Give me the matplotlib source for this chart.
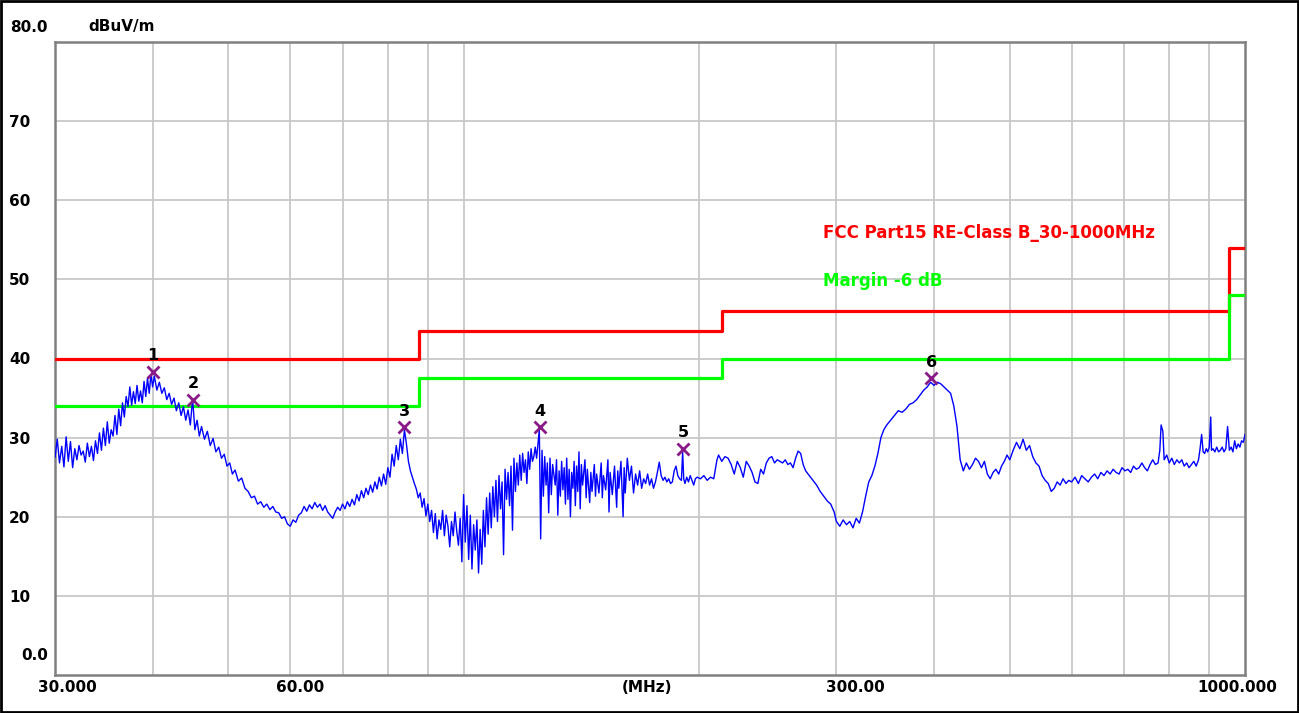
import matplotlib
matplotlib.use("Agg")
import matplotlib.pyplot as plt
from matplotlib.patches import Rectangle
import numpy as np

# ---- measured trace, 30 - 100 MHz ----
freq_low = [30.0, 30.2, 30.4, 30.6, 30.8, 31.0, 31.2, 31.4, 31.6, 31.8,
            32.0, 32.2, 32.4, 32.6, 32.8, 33.0, 33.2, 33.4, 33.6, 33.8,
            34.0, 34.2, 34.4, 34.6, 34.8, 35.0, 35.2, 35.4, 35.6, 35.8,
            36.0, 36.2, 36.4, 36.6, 36.8, 37.0, 37.2, 37.4, 37.6, 37.8,
            38.0, 38.2, 38.4, 38.6, 38.8, 39.0, 39.2, 39.4, 39.6, 39.8,
            40.0, 40.2, 40.5, 40.8, 41.1, 41.4, 41.7, 42.0, 42.3, 42.6,
            42.9, 43.2, 43.5, 43.8, 44.1, 44.4, 44.7, 45.0, 45.3, 45.6,
            45.9, 46.2, 46.6, 47.0, 47.4, 47.8, 48.2, 48.6, 49.0, 49.4,
            49.8, 50.2, 50.6, 51.0, 51.5, 52.0, 52.5, 53.0, 53.5, 54.0,
            54.5, 55.0, 55.5, 56.0, 56.5, 57.0, 57.5, 58.0, 58.5, 59.0,
            59.5, 60.0, 60.5, 61.0, 61.5, 62.0, 62.5, 63.0, 63.5, 64.0,
            64.5, 65.0, 65.5, 66.0, 66.5, 67.0, 67.5, 68.0, 68.5, 69.0,
            69.5, 70.0, 70.5, 71.0, 71.5, 72.0, 72.5, 73.0, 73.5, 74.0,
            74.5, 75.0, 75.5, 76.0, 76.5, 77.0, 77.5, 78.0, 78.5, 79.0,
            79.5, 80.0, 80.5, 81.0, 81.5, 82.0, 82.5, 83.0, 83.5, 84.0,
            84.5, 85.0, 85.5, 86.0, 86.5, 87.0, 87.5, 88.0, 88.5, 89.0,
            89.5, 90.0, 90.5, 91.0, 91.5, 92.0, 92.5, 93.0, 93.5, 94.0,
            94.5, 95.0, 95.5, 96.0, 96.5, 97.0, 97.5, 98.0, 98.5, 99.0,
            99.5]
level_low = [27.5, 29.8, 26.8, 28.9, 26.3, 30.1, 27.0, 29.5, 26.2, 28.6,
             27.2, 29.0, 27.8, 28.3, 26.9, 29.3, 27.6, 28.9, 27.1, 29.6,
             28.0, 30.6, 28.4, 31.2, 29.0, 32.0, 29.3, 31.0, 30.2, 32.8,
             30.4, 33.6, 31.5, 34.4, 32.6, 35.2, 33.9, 36.4, 34.1, 35.8,
             34.3, 36.6, 34.6, 35.9, 34.4, 37.1, 35.2, 37.5, 35.6, 38.0,
             36.4, 37.8, 36.0, 37.0, 35.6, 36.3, 34.8, 35.6, 34.2, 35.0,
             33.4, 34.4, 32.8, 33.9, 32.2, 33.5, 31.6, 34.9, 31.0, 32.2,
             30.2, 31.4, 29.8, 30.8, 29.0, 29.9, 28.2, 28.8, 27.4, 27.9,
             26.4, 26.8, 25.4, 25.9, 24.5, 24.9, 23.6, 23.2, 22.4, 22.6,
             21.6, 21.9, 21.2, 21.6, 20.9, 21.3, 20.6, 20.5, 19.8, 20.0,
             19.1, 18.8, 19.6, 19.3, 20.2, 20.5, 21.3, 20.7, 21.5, 21.0,
             21.8, 21.2, 21.6, 20.8, 21.4, 20.6, 20.2, 19.8, 20.6, 21.2,
             20.8, 21.6, 21.0, 21.9, 21.3, 22.2, 21.5, 22.8, 22.0, 23.3,
             22.4, 23.6, 22.8, 24.0, 23.1, 24.4, 23.5, 25.0, 23.9, 25.4,
             24.1, 26.2, 25.0, 27.9, 26.4, 29.0, 27.2, 29.8, 28.0, 31.0,
             29.2, 27.0, 25.8, 25.0, 24.2, 23.5, 22.4, 23.0, 21.2, 22.3,
             20.1, 21.6, 19.4, 20.8, 18.0, 20.4, 17.2, 19.6, 18.4, 20.8,
             17.6, 20.2, 18.8, 16.2, 19.4, 17.6, 20.6, 18.2, 16.4, 19.8,
             14.3]

# ---- measured trace, 100 - 300 MHz ----
freq_mid = [100.0, 100.5, 101.0, 101.5, 102.0, 102.5, 103.0, 103.5, 104.0, 104.5,
            105.0, 105.5, 106.0, 106.5, 107.0, 107.5, 108.0, 108.5, 109.0, 109.5,
            110.0, 110.5, 111.0, 111.5, 112.0, 112.5, 113.0, 113.5, 114.0, 114.5,
            115.0, 115.5, 116.0, 116.5, 117.0, 117.5, 118.0, 118.5, 119.0, 119.5,
            120.0, 120.5, 121.0, 121.5, 122.0, 122.5, 123.0, 123.5, 124.0, 124.5,
            125.0, 125.5, 126.0, 126.5, 127.0, 127.5, 128.0, 128.5, 129.0, 129.5,
            130.0, 131.0, 131.5, 132.0, 132.5, 133.0, 133.5, 134.0, 134.5, 135.0,
            135.5, 136.0, 136.5, 137.0, 137.5, 138.0, 138.5, 139.0, 139.5, 140.0,
            140.5, 141.0, 141.5, 142.0, 143.0, 143.5, 144.0, 145.0, 145.5, 146.0,
            147.0, 147.5, 148.0, 149.0, 150.0, 150.5, 151.0, 152.0, 153.0, 153.5,
            154.0, 155.0, 156.0, 157.0, 157.5, 158.0, 159.0, 160.0, 160.5, 161.0,
            162.0, 163.0, 164.0, 165.0, 166.0, 167.0, 168.0, 169.0, 170.0, 171.0,
            172.0, 173.0, 174.0, 175.0, 176.0, 177.0, 178.0, 179.0, 180.0, 181.0,
            182.0, 183.0, 184.0, 185.0, 186.0, 187.0, 188.0, 189.0, 190.0, 190.7,
            191.3, 192.0, 193.0, 194.0, 195.0, 196.0, 197.0, 198.0, 199.0, 201.0,
            203.0, 205.0, 207.0, 209.0, 211.0, 212.0, 214.0, 216.0, 218.0, 220.0,
            222.0, 224.0, 226.0, 228.0, 230.0, 232.0, 234.0, 236.0, 238.0, 240.0,
            242.0, 244.0, 246.0, 248.0, 250.0, 252.0, 254.0, 256.0, 258.0, 260.0,
            262.0, 264.0, 266.0, 268.0, 270.0, 272.0, 274.0, 276.0, 278.0, 280.0,
            283.0, 286.0, 289.0, 292.0, 295.0, 298.0]
level_mid = [22.8, 16.8, 21.4, 14.6, 20.2, 13.4, 19.0, 15.8, 19.6, 12.9,
             18.4, 14.0, 20.8, 16.2, 22.4, 17.8, 23.0, 18.6, 23.8, 20.0,
             24.6, 19.4, 25.2, 21.0, 24.4, 15.2, 26.0, 22.2, 25.6, 21.4,
             26.4, 18.3, 27.4, 23.2, 26.8, 24.0, 27.8, 24.6, 28.0, 25.6,
             27.2, 24.2, 28.2, 26.0, 28.6, 27.0, 27.6, 28.8, 27.4, 29.2,
             31.0, 17.2, 28.4, 22.6, 27.6, 24.0, 26.8, 20.5, 27.4, 22.8,
             26.6, 24.0, 27.2, 20.2, 25.8, 22.6, 27.0, 23.4, 26.2, 21.6,
             27.4, 22.2, 26.0, 20.0, 25.6, 23.6, 27.0, 21.4, 26.4, 23.2,
             28.2, 21.0, 26.6, 24.0, 27.2, 22.4, 26.0, 21.8, 25.6, 23.2,
             26.6, 22.6, 25.4, 23.0, 26.8, 22.4, 25.2, 23.4, 27.2, 20.6,
             25.6, 22.8, 26.4, 21.2, 25.8, 23.6, 27.0, 20.0, 26.2, 23.0,
             27.4, 24.6, 26.4, 23.0, 25.4, 24.0, 25.8, 23.6, 24.8, 24.2,
             25.4, 24.0, 24.8, 23.6, 24.4, 25.6, 26.9, 25.2, 24.6, 25.0,
             24.4, 24.8, 24.2, 24.4, 25.8, 26.4, 25.2, 24.8, 24.6, 28.2,
             24.8, 24.2, 25.0, 24.4, 25.2, 24.6, 24.0, 24.8, 25.0, 24.8,
             25.2, 24.6, 25.0, 24.8, 27.2, 27.8, 27.0, 27.6, 27.4, 26.6,
             25.4, 27.0, 26.2, 25.0, 27.0, 26.4, 25.6, 24.4, 24.2, 26.0,
             25.4, 26.8, 27.4, 27.6, 26.8, 27.2, 27.0, 26.8, 27.2, 26.6,
             26.8, 26.2, 27.4, 28.3, 28.0, 26.6, 25.8, 25.4, 25.0, 24.6,
             24.0, 23.2, 22.6, 22.0, 21.6, 20.6]

# ---- measured trace, 300 - 1000 MHz ----
freq_high = [300.0, 303.0, 306.0, 309.0, 312.0, 315.0, 318.0, 321.0, 324.0, 327.0,
             330.0, 333.0, 336.0, 339.0, 342.0, 345.0, 348.0, 352.0, 356.0, 360.0,
             364.0, 368.0, 372.0, 376.0, 380.0, 384.0, 388.0, 392.0, 396.0, 400.0,
             404.0, 408.0, 412.0, 416.0, 420.0, 424.0, 428.0, 432.0, 436.0, 440.0,
             444.0, 448.0, 452.0, 456.0, 460.0, 464.0, 468.0, 472.0, 476.0, 480.0,
             484.0, 488.0, 492.0, 496.0, 500.0, 505.0, 510.0, 515.0, 520.0, 525.0,
             530.0, 535.0, 540.0, 545.0, 550.0, 555.0, 560.0, 565.0, 570.0, 575.0,
             580.0, 585.0, 590.0, 595.0, 600.0, 606.0, 612.0, 618.0, 624.0, 630.0,
             636.0, 642.0, 648.0, 654.0, 660.0, 666.0, 672.0, 678.0, 684.0, 690.0,
             696.0, 702.0, 708.0, 714.0, 720.0, 726.0, 732.0, 738.0, 744.0, 750.0,
             756.0, 762.0, 768.0, 774.0, 778.0, 781.0, 785.0, 788.0, 794.0, 800.0,
             806.0, 812.0, 818.0, 824.0, 830.0, 836.0, 842.0, 848.0, 854.0, 860.0,
             866.0, 872.0, 876.0, 880.0, 884.0, 888.0, 892.0, 896.0, 900.0, 904.0,
             906.0, 910.0, 915.0, 920.0, 925.0, 930.0, 935.0, 940.0, 945.0, 950.0,
             955.0, 960.0, 965.0, 970.0, 975.0, 980.0, 985.0, 990.0, 995.0, 1000.0]
level_high = [19.4, 18.8, 19.6, 19.0, 19.4, 18.6, 19.8, 19.2, 20.6, 22.6,
              24.4, 25.2, 26.4, 28.0, 30.0, 31.0, 31.6, 32.2, 32.8, 33.4,
              33.2, 33.6, 34.2, 34.4, 34.8, 35.4, 36.0, 36.4, 37.0, 36.6,
              37.0, 36.8, 36.4, 36.0, 35.6, 34.0, 31.4, 27.2, 25.8, 26.8,
              26.0, 26.6, 27.4, 27.0, 26.2, 27.0, 25.4, 24.8, 25.6, 26.0,
              25.4, 26.4, 27.0, 27.8, 27.2, 28.4, 29.4, 28.6, 29.8, 28.4,
              29.0, 27.6, 26.8, 26.4, 25.2, 24.6, 24.2, 23.2, 23.6, 24.4,
              24.0, 24.8, 24.2, 24.6, 24.4, 25.0, 24.2, 25.2, 24.8, 24.4,
              25.0, 25.4, 24.8, 25.6, 25.2, 25.8, 25.4, 26.0, 25.6, 25.4,
              26.2, 25.8, 26.0, 25.6, 26.4, 26.0, 26.2, 26.8, 26.2, 25.8,
              26.6, 27.2, 26.6, 26.8, 28.4, 31.6, 30.8, 27.2, 27.8, 26.8,
              27.4, 26.6, 27.2, 26.8, 27.2, 26.4, 26.8, 26.2, 26.6, 27.0,
              26.4, 27.2, 28.6, 30.4, 28.2, 28.0, 28.6, 28.2, 28.8, 32.6,
              28.4, 28.6, 28.2, 28.8, 28.2, 28.4, 28.8, 28.2, 28.6, 31.4,
              28.4, 28.8, 28.2, 29.6, 28.6, 29.2, 28.8, 29.6, 29.4, 30.4]

# ---- FCC Part 15 class B limit (step edges) ----
limit_freq = [30.0, 87.6, 87.6, 214.0, 214.0, 955.0, 955.0, 1000.0]
limit_level = [40.0, 40.0, 43.5, 43.5, 46.0, 46.0, 54.0, 54.0]
margin_db = 6.0

# ---- peak markers ----
peak_freq = [40.0, 45.06, 83.9, 125.2, 190.9, 396.7]
peak_level = [38.3, 34.8, 31.3, 31.3, 28.6, 37.5]
peak_names = ["1", "2", "3", "4", "5", "6"]

freq = np.array(freq_low + freq_mid + freq_high)
level = np.array(level_low + level_mid + level_high)

fig = plt.figure(figsize=(12.99, 7.13), dpi=100)
ax = fig.add_axes([55 / 1299, 38 / 713, 1190 / 1299, 633 / 713])

ax.set_xscale("log")
ax.set_xlim(30, 1000)
ax.set_ylim(0, 80)

grid_freqs = [40, 50, 60, 70, 80, 90, 100, 200, 300, 400, 500, 600, 700, 800, 900]
ax.set_xticks(grid_freqs)
ax.set_xticklabels([])
ax.xaxis.set_minor_locator(matplotlib.ticker.NullLocator())
ax.set_yticks(range(10, 80, 10))
ax.set_yticklabels([str(v) for v in range(10, 80, 10)])
ax.grid(True, color="#c8c8c8", linewidth=1.3)
ax.set_axisbelow(True)
ax.tick_params(axis="both", length=0)
ax.tick_params(axis="y", pad=33, labelsize=11)
for lab in ax.get_yticklabels():
    lab.set_horizontalalignment("left")
    lab.set_fontweight("bold")

for sp in ax.spines.values():
    sp.set_color("#808080")
    sp.set_linewidth(1.8)

# limit lines
ax.plot(limit_freq, limit_level, color="#ff0000", lw=2.3, zorder=3)
ax.plot(limit_freq, np.array(limit_level) - margin_db, color="#00ff00", lw=2.3, zorder=3)

# trace
ax.plot(freq, level, color="#0000ff", lw=1.0, zorder=4)

# markers
ax.plot(peak_freq, peak_level, linestyle="none", marker="x", color="#8b1a89",
        markersize=9, markeredgewidth=2, zorder=5)
for f, l, n in zip(peak_freq, peak_level, peak_names):
    ax.annotate(n, xy=(f, l), xytext=(0, 16), textcoords="offset pixels",
                ha="center", va="center", fontsize=11.5, fontweight="bold", zorder=6)

# legend texts
ax.text(288, 55.9, "FCC Part15 RE-Class B_30-1000MHz", color="#ff0000",
        fontsize=12, fontweight="bold", va="center", ha="left")
ax.text(288, 49.8, "Margin -6 dB", color="#00ff00",
        fontsize=12, fontweight="bold", va="center", ha="left")

# axis end labels
lab_kw = dict(fontsize=11, fontweight="bold", annotation_clip=False)
ax.annotate("80.0", xy=(0, 1), xycoords="axes fraction", xytext=(-45, 15),
            textcoords="offset pixels", ha="left", va="center", **lab_kw)
ax.annotate("0.0", xy=(0, 0), xycoords="axes fraction", xytext=(-7, 20),
            textcoords="offset pixels", ha="right", va="center", **lab_kw)
ax.annotate("dBuV/m", xy=(0, 1), xycoords="axes fraction", xytext=(33, 15),
            textcoords="offset pixels", ha="left", va="center",
            fontsize=11, fontweight="bold", annotation_clip=False)

x_labels = [(30, "30.000", 12), (60, "60.00", 10), (300, "300.00", 19),
            (1000, "1000.000", -8)]
for f, txt, dx in x_labels:
    ax.annotate(txt, xy=(f, 0), xycoords=("data", "axes fraction"),
                xytext=(dx, -12), textcoords="offset pixels",
                ha="center", va="center", **lab_kw)
ax.annotate("(MHz)", xy=(0.4975, 0), xycoords="axes fraction",
            xytext=(0, -12), textcoords="offset pixels",
            ha="center", va="center", **lab_kw)

# outer frame
fig.patches.append(Rectangle((0.001, 0.001), 0.998, 0.997, transform=fig.transFigure,
                             fill=False, edgecolor="black", linewidth=2))

fig.savefig("out.png", dpi=100, facecolor="white")
